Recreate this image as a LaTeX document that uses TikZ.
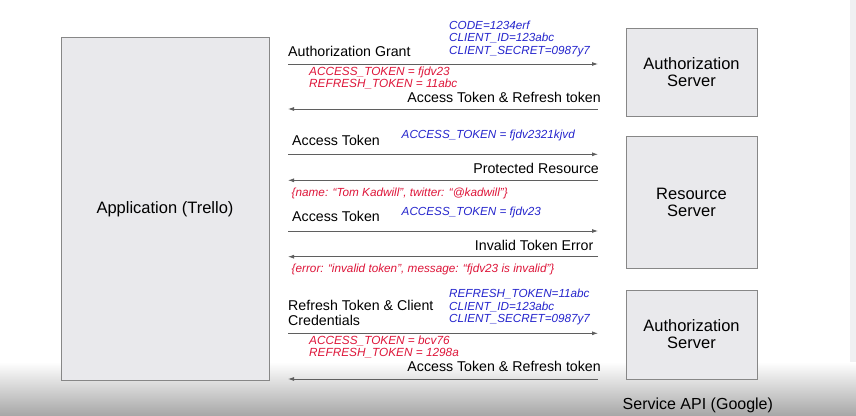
\documentclass[tikz,border=0pt]{standalone}
\usepackage{fontspec}
\setmainfont{Liberation Sans}
\usetikzlibrary{arrows.meta}
\definecolor{blueT}{RGB}{38,38,205}
\definecolor{redT}{RGB}{222,22,58}
\definecolor{boxfill}{RGB}{233,233,236}
\definecolor{boxline}{RGB}{135,135,135}
\definecolor{arrowc}{RGB}{95,95,95}
\definecolor{bottomgray}{RGB}{168,168,168}
\definecolor{stripgray}{RGB}{240,240,242}
\begin{document}
\begin{tikzpicture}[x=1pt,y=-1pt,
  sbox/.style={draw=boxline,fill=boxfill,line width=0.9pt,inner sep=0},
  boxtext/.style={font=\fontsize{16.5}{18}\selectfont,align=center,inner sep=0},
  lbl/.style={font=\fontsize{14.2}{16}\selectfont,inner sep=0},
  bluet/.style={font=\fontsize{11.7}{13}\selectfont\itshape,text=blueT,inner sep=0,anchor=base west},
  redt/.style={font=\fontsize{11.8}{13}\selectfont\itshape,text=redT,inner sep=0,anchor=base west},
  redj/.style={font=\fontsize{11.75}{13}\selectfont\itshape,text=redT,inner sep=0,anchor=base west},
  msg/.style={draw=arrowc,line width=0.8pt,-{Latex[length=6pt,width=4pt]}}
]
\useasboundingbox (0,0) rectangle (856,415);
\fill[white] (0,0) rectangle (856,415);
\fill[stripgray] (850,0) rectangle (856,415);
\shade[top color=white,bottom color=bottomgray] (0,362) rectangle (856,415);

% boxes
\draw[sbox] (61,37) rectangle (269,380);
\node[boxtext,anchor=base] (app) at (165,213) {Application (Trello)};
\draw[sbox] (626,28) rectangle (757,116);
\node[boxtext,anchor=base] (as1a) at (691.5,69) {Authorization};
\node[boxtext,anchor=base] (as1b) at (691.5,86) {Server};
\draw[sbox] (626,136) rectangle (757,268);
\node[boxtext,anchor=base] (rsa) at (691.5,199) {Resource};
\node[boxtext,anchor=base] (rsb) at (691.5,216) {Server};
\draw[sbox] (626,290.5) rectangle (757,379);
\node[boxtext,anchor=base] (as2a) at (691.5,331) {Authorization};
\node[boxtext,anchor=base] (as2b) at (691.5,348) {Server};
\node[font=\fontsize{16}{18}\selectfont,inner sep=0,anchor=base west] (api) at (622.5,409) {Service API (Google)};

% arrow endpoints
\foreach \n/\y in {1/64,2/109,3/154.3,4/180.3,5/231,6/256.7,7/333.3,8/379}{
  \coordinate (l\n) at (288,\y);
  \coordinate (r\n) at (598,\y);
}
\draw[msg] (l1) -- (r1);
\draw[msg] (r2) -- (l2);
\draw[msg] (l3) -- (r3);
\draw[msg] (r4) -- (l4);
\draw[msg] (l5) -- (r5);
\draw[msg] (r6) -- (l6);
\draw[msg] (l7) -- (r7);
\draw[msg] (r8) -- (l8);

% exchange 1
\node[lbl,anchor=base west] (t1) at (288,56) {Authorization Grant};
\node[bluet] (b1a) at (449,29) {CODE=1234erf};
\node[bluet] (b1b) at (449,41.7) {CLIENT\_ID=123abc};
\node[bluet] (b1c) at (449,54.3) {CLIENT\_SECRET=0987y7};
\node[redt] (r1a) at (309,75) {ACCESS\_TOKEN = fjdv23};
\node[redt] (r1b) at (309,87.7) {REFRESH\_TOKEN = 11abc};
\node[lbl,anchor=base east] (t2) at (601,102.3) {Access Token \& Refresh token};

% exchange 2
\node[lbl,anchor=base west] (t3) at (292,145) {Access Token};
\node[bluet] (b3) at (401.5,138.3) {ACCESS\_TOKEN = fjdv2321kjvd};
\node[lbl,anchor=base east] (t4) at (599,173.3) {Protected Resource};
\node[redj] (r4) at (291.5,196) {\{name: “Tom Kadwill”, twitter: “@kadwill”\}};

% exchange 3
\node[lbl,anchor=base west] (t5) at (292,221.7) {Access Token};
\node[bluet] (b5) at (401.5,215) {ACCESS\_TOKEN = fjdv23};
\node[lbl,anchor=base east] (t6) at (593.5,250) {Invalid Token Error};
\node[redj] (r6) at (291.5,272.7) {\{error: “invalid token”, message: “fjdv23 is invalid”\}};

% exchange 4
\node[lbl,anchor=base west] (t7a) at (288,310.7) {Refresh Token \& Client};
\node[lbl,anchor=base west] (t7b) at (288,325.7) {Credentials};
\node[bluet] (b7a) at (449,297.3) {REFRESH\_TOKEN=11abc};
\node[bluet] (b7b) at (449,310) {CLIENT\_ID=123abc};
\node[bluet] (b7c) at (449,322.7) {CLIENT\_SECRET=0987y7};
\node[redt] (r7a) at (309,344) {ACCESS\_TOKEN = bcv76};
\node[redt] (r7b) at (309,356) {REFRESH\_TOKEN = 1298a};
\node[lbl,anchor=base east] (t8) at (601,371.7) {Access Token \& Refresh token};
\end{tikzpicture}
\end{document}
